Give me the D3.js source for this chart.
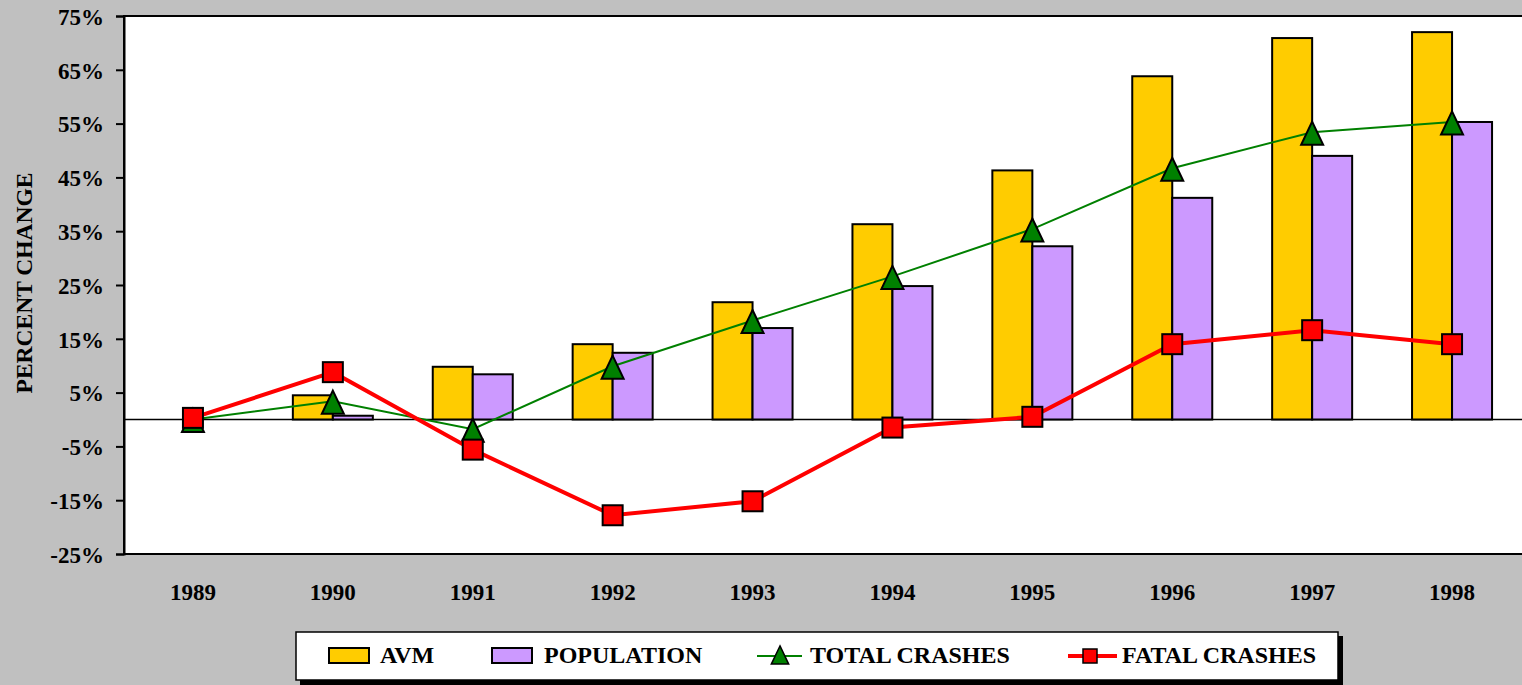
<!DOCTYPE html>
<html>
<head>
<meta charset="utf-8">
<script src="https://cdn.jsdelivr.net/npm/d3@7"></script>
<style>
  body { margin: 0; background: #c0c0c0; }
</style>
</head>
<body>
<div id="chart"></div>
<script>
// Data
const years = ["1989", "1990", "1991", "1992", "1993", "1994", "1995", "1996", "1997", "1998"];
const avm = [0, 4.5, 9.8, 14, 21.8, 36.3, 46.3, 63.8, 70.9, 72];
const population = [0, 0.7, 8.4, 12.4, 17, 24.8, 32.2, 41.2, 49, 55.3];
const totalCrashes = [0, 3.4, -1.8, 9.9, 18.4, 26.6, 35.4, 46.7, 53.4, 55.3];
const fatalCrashes = [0.3, 8.8, -5.6, -17.8, -15.2, -1.5, 0.5, 14, 16.6, 14];
const yTicks = [-25, -15, -5, 5, 15, 25, 35, 45, 55, 65, 75];

const FONT = "'Liberation Serif', 'Times New Roman', Times, 'DejaVu Serif', serif";

const W = 1522, H = 685;
const margin = { top: 16, right: -1, bottom: 131, left: 124 };
const width = W - margin.left - margin.right;
const height = H - margin.top - margin.bottom;

const svg = d3.select("#chart").append("svg")
    .attr("width", W)
    .attr("height", H)
    .attr("font-family", FONT)
    .attr("font-weight", "bold");

svg.append("rect").attr("width", W).attr("height", H).attr("fill", "#c0c0c0");

const g = svg.append("g").attr("transform", `translate(${margin.left},${margin.top})`);

const x = d3.scaleBand().domain(years).range([-1, width - 1]);
const y = d3.scaleLinear().domain([-25, 75]).range([height, 0]);

// isosceles triangle marker centred on its box (Excel style)
const excelTriangle = {
  draw(ctx, size) {
    const w = Math.sqrt(size) / 2, h = w * 1.05;
    ctx.moveTo(0, -h);
    ctx.lineTo(w, h);
    ctx.lineTo(-w, h);
    ctx.closePath();
  }
};

// plot area
g.append("rect")
    .attr("width", width).attr("height", height)
    .attr("fill", "#fff").attr("stroke", "#000").attr("stroke-width", 2);

// zero line
g.append("line")
    .attr("x1", 0).attr("x2", width)
    .attr("y1", y(0)).attr("y2", y(0))
    .attr("stroke", "#000").attr("stroke-width", 1.5);

// y axis
const yAxis = g.append("g")
    .call(d3.axisLeft(y).tickValues(yTicks).tickSize(8).tickPadding(12).tickFormat(d => d + "%"));
yAxis.attr("font-family", FONT);
yAxis.select(".domain").attr("stroke-width", 2);
yAxis.selectAll(".tick line").attr("stroke-width", 2);
yAxis.selectAll("text")
    .style("font-family", FONT).style("font-weight", "bold")
    .style("font-size", "23px").attr("dy", "0.36em");

// x labels
g.append("g")
    .attr("transform", `translate(0,${height})`)
    .call(d3.axisBottom(x).tickSize(0).tickPadding(30))
    .call(a => a.select(".domain").remove())
    .selectAll("text")
    .style("font-family", FONT).style("font-weight", "bold")
    .style("font-size", "23px");

// y title
svg.append("text")
    .attr("transform", `translate(32,283) rotate(-90)`)
    .attr("text-anchor", "middle")
    .style("font-family", FONT).style("font-weight", "bold")
    .style("font-size", "23.5px")
    .text("PERCENT CHANGE");

// bars
const barW = 40;
const bars = [
  { vals: avm, color: "#ffcc00", off: -barW },
  { vals: population, color: "#cc99ff", off: 0 }
];
bars.forEach(s => {
  g.selectAll(null)
    .data(s.vals.map((v, i) => ({ year: years[i], v })).filter(d => d.v !== 0))
    .enter().append("rect")
    .attr("x", d => x(d.year) + x.bandwidth() / 2 + s.off)
    .attr("y", d => y(Math.max(0, d.v)))
    .attr("width", barW)
    .attr("height", d => Math.abs(y(d.v) - y(0)))
    .attr("fill", s.color)
    .attr("stroke", "#000").attr("stroke-width", 2);
});

const cx = i => x(years[i]) + x.bandwidth() / 2;
const line = d3.line().x((d, i) => cx(i)).y(d => y(d));

// total crashes
g.append("path").datum(totalCrashes)
    .attr("d", line).attr("fill", "none")
    .attr("stroke", "#008000").attr("stroke-width", 2);
const tri = d3.symbol().type(excelTriangle).size(484);
g.selectAll(".tri").data(totalCrashes).enter().append("path")
    .attr("class", "tri")
    .attr("d", tri)
    .attr("transform", (d, i) => `translate(${cx(i)},${y(d) + 1})`)
    .attr("fill", "#008000").attr("stroke", "#000").attr("stroke-width", 2)
    .attr("stroke-linejoin", "miter");

// fatal crashes
g.append("path").datum(fatalCrashes)
    .attr("d", line).attr("fill", "none")
    .attr("stroke", "#ff0000").attr("stroke-width", 4);
g.selectAll(".sq").data(fatalCrashes).enter().append("rect")
    .attr("class", "sq")
    .attr("x", (d, i) => cx(i) - 10).attr("y", d => y(d) - 10)
    .attr("width", 20).attr("height", 20)
    .attr("fill", "#ff0000").attr("stroke", "#000").attr("stroke-width", 2);

// legend
const lg = svg.append("g").attr("transform", "translate(296,632)");
lg.append("rect").attr("x", 4).attr("y", 4).attr("width", 1043).attr("height", 49).attr("fill", "#000");
lg.append("rect").attr("width", 1042).attr("height", 48).attr("fill", "#fff").attr("stroke", "#000").attr("stroke-width", 1.5);

const legendText = (tx, t) => lg.append("text").attr("x", tx).attr("y", 23).attr("dy", "0.35em")
    .style("font-family", FONT).style("font-weight", "bold")
    .style("font-size", "24px").text(t);

lg.append("rect").attr("x", 33).attr("y", 16).attr("width", 40).attr("height", 15)
    .attr("fill", "#ffcc00").attr("stroke", "#000").attr("stroke-width", 2);
legendText(84, "AVM");
lg.append("rect").attr("x", 196).attr("y", 16).attr("width", 40).attr("height", 15)
    .attr("fill", "#cc99ff").attr("stroke", "#000").attr("stroke-width", 2);
legendText(248, "POPULATION");

lg.append("line").attr("x1", 461).attr("x2", 506).attr("y1", 24).attr("y2", 24)
    .attr("stroke", "#008000").attr("stroke-width", 2);
lg.append("path").attr("d", d3.symbol().type(excelTriangle).size(300))
    .attr("transform", "translate(484,23)")
    .attr("fill", "#008000").attr("stroke", "#000").attr("stroke-width", 1.5);
legendText(514, "TOTAL CRASHES");

lg.append("line").attr("x1", 772).attr("x2", 821).attr("y1", 24).attr("y2", 24)
    .attr("stroke", "#ff0000").attr("stroke-width", 4);
lg.append("rect").attr("x", 787).attr("y", 17).attr("width", 14).attr("height", 14)
    .attr("fill", "#ff0000").attr("stroke", "#000").attr("stroke-width", 1.5);
legendText(826, "FATAL CRASHES");
</script>
</body>
</html>
